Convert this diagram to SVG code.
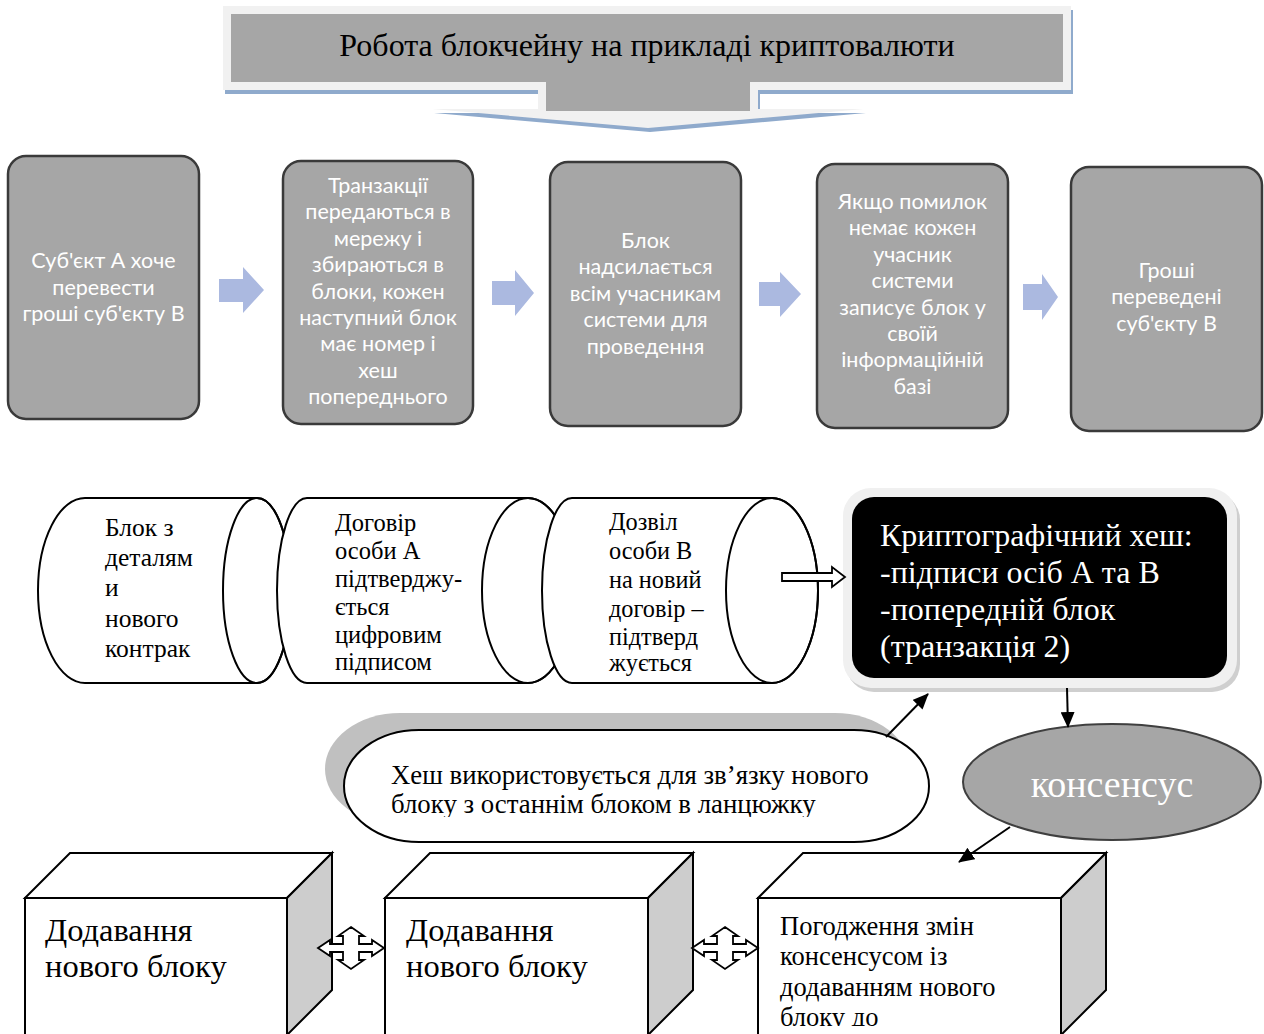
<svg xmlns="http://www.w3.org/2000/svg" width="1264" height="1034" viewBox="0 0 1264 1034">
<style>
.box{fill:#a6a6a6;stroke:#3a3a3a;stroke-width:2.5}
.bt{font-family:Lato,"Open Sans","Noto Sans",sans-serif;font-size:21.5px;fill:#ffffff;text-anchor:middle}
.blue{fill:#abb9e0}
.cyl{fill:#ffffff;stroke:#000;stroke-width:2}
.ser{font-family:"Liberation Serif","Times New Roman",serif;fill:#000}
.cube{fill:#ffffff;stroke:#000;stroke-width:2}
.side{fill:#cdcdcd;stroke:#000;stroke-width:2}
.ln{stroke:#000;stroke-width:2;fill:none}
.qa{fill:#ffffff;stroke:#000;stroke-width:1.8;stroke-linejoin:miter}
</style>
<defs>
<marker id="ah" markerUnits="userSpaceOnUse" markerWidth="16" markerHeight="14" refX="15" refY="7" orient="auto">
<path d="M0,0 L16,7 L0,14 Z" fill="#000"/>
</marker>
<clipPath id="clipPill"><rect x="300" y="700" width="650" height="117"/></clipPath>
<clipPath id="clipCube3"><rect x="740" y="880" width="400" height="146"/></clipPath>
<polygon id="quad" points="0,-21 13,-12 8,-12 8,-4 21,-4 21,-8 33,0 21,8 21,4 8,4 8,12 13,12 0,21 -13,12 -8,12 -8,4 -21,4 -21,8 -33,0 -21,-8 -21,-4 -8,-4 -8,-12 -13,-12"/>
<path id="banner" d="M223,6 H1071 V90 H758 V109 H864 L648,128 L432,109 H538 V90 H223 Z"/>
</defs>

<g id="title">
<use href="#banner" transform="translate(2,4)" fill="#8faacc"/>
<use href="#banner" fill="#f1f1f1"/>
<rect x="231" y="14" width="832" height="68" fill="#a6a6a6"/>
<rect x="546" y="81" width="204" height="30" fill="#a6a6a6"/>
<text x="647" y="56" class="ser" font-size="32" text-anchor="middle">Робота блокчейну на прикладі криптовалюти</text>
</g>

<g id="box1">
<rect class="box" x="8" y="156" width="191" height="263" rx="18"/>
<text class="bt"><tspan x="103.5" y="268">Суб'єкт А хоче</tspan><tspan x="103.5" y="295">перевести</tspan><tspan x="103.5" y="321">гроші суб'єкту В</tspan></text>
</g>
<g id="box2">
<rect class="box" x="283" y="161" width="190" height="263" rx="18"/>
<text class="bt"><tspan x="378" y="193">Транзакції</tspan><tspan x="378" y="219.4">передаються в</tspan><tspan x="378" y="245.8">мережу і</tspan><tspan x="378" y="272.2">збираються в</tspan><tspan x="378" y="298.6">блоки, кожен</tspan><tspan x="378" y="325">наступний блок</tspan><tspan x="378" y="351.4">має номер і</tspan><tspan x="378" y="377.8">хеш</tspan><tspan x="378" y="404.2">попереднього</tspan></text>
</g>
<g id="box3">
<rect class="box" x="550" y="162" width="191" height="264" rx="18"/>
<text class="bt"><tspan x="645.5" y="248">Блок</tspan><tspan x="645.5" y="274.4">надсилається</tspan><tspan x="645.5" y="300.8">всім учасникам</tspan><tspan x="645.5" y="327.2">системи для</tspan><tspan x="645.5" y="353.6">проведення</tspan></text>
</g>
<g id="box4">
<rect class="box" x="817" y="164" width="191" height="264" rx="18"/>
<text class="bt"><tspan x="912.5" y="209">Якщо помилок</tspan><tspan x="912.5" y="235.4">немає кожен</tspan><tspan x="912.5" y="261.8">учасник</tspan><tspan x="912.5" y="288.2">системи</tspan><tspan x="912.5" y="314.6">записує блок у</tspan><tspan x="912.5" y="341">своїй</tspan><tspan x="912.5" y="367.4">інформаційній</tspan><tspan x="912.5" y="393.8">базі</tspan></text>
</g>
<g id="box5">
<rect class="box" x="1071" y="167" width="191" height="264" rx="18"/>
<text class="bt"><tspan x="1166.5" y="278">Гроші</tspan><tspan x="1166.5" y="304.4">переведені</tspan><tspan x="1166.5" y="330.8">суб'єкту В</tspan></text>
</g>

<g id="cyl1">
<path class="cyl" d="M85,498 H257 A34,92.5 0 0 1 257,683 H85 A47,92.5 0 0 1 85,498 Z"/>
<ellipse cx="257" cy="590.5" rx="34" ry="92.5" fill="none" stroke="#000" stroke-width="2"/>
<text class="ser" font-size="25.5"><tspan x="105" y="536">Блок з</tspan><tspan x="105" y="566">деталям</tspan><tspan x="105" y="596">и</tspan><tspan x="105" y="627">нового</tspan><tspan x="105" y="657">контрак</tspan></text>
</g>
<g id="cyl2">
<path class="cyl" d="M307,498 H528 A46,92.5 0 0 1 528,683 H307 A30,92.5 0 0 1 307,498 Z"/>
<ellipse cx="528" cy="590.5" rx="46" ry="92.5" fill="none" stroke="#000" stroke-width="2"/>
<text class="ser" font-size="24.5"><tspan x="335" y="531">Договір</tspan><tspan x="335" y="559">особи А</tspan><tspan x="335" y="587">підтверджу-</tspan><tspan x="335" y="615">ється</tspan><tspan x="335" y="643">цифровим</tspan><tspan x="335" y="670">підписом</tspan></text>
</g>
<g id="cyl3">
<path class="cyl" d="M572,498 H772 A46,92.5 0 0 1 772,683 H572 A30,92.5 0 0 1 572,498 Z"/>
<ellipse cx="772" cy="590.5" rx="46" ry="92.5" fill="none" stroke="#000" stroke-width="2"/>
<text class="ser" font-size="24.3"><tspan x="609" y="530">Дозвіл</tspan><tspan x="609" y="559">особи В</tspan><tspan x="609" y="588">на новий</tspan><tspan x="609" y="617">договір –</tspan><tspan x="609" y="645">підтверд</tspan><tspan x="609" y="671">жується</tspan></text>
</g>

<g id="hashbox">
<rect x="846" y="492" width="394" height="200" rx="28" fill="#cfcfcf"/>
<rect x="843" y="488" width="394" height="200" rx="28" fill="#f0f0f0"/>
<rect x="852" y="497" width="375" height="181" rx="22" fill="#000"/>
<text class="ser" font-size="32" style="fill:#fff"><tspan x="880" y="546">Криптографічний хеш:</tspan><tspan x="880" y="583">-підписи осіб А та В</tspan><tspan x="880" y="620">-попередній блок</tspan><tspan x="880" y="657">(транзакція 2)</tspan></text>
</g>

<g id="pill">
<rect x="325" y="713" width="585" height="112" rx="75" ry="56" fill="#c0c0c0"/>
<rect x="344" y="730" width="585" height="112" rx="75" ry="56" fill="#fff" stroke="#000" stroke-width="2"/>
<text class="ser" font-size="26.8" clip-path="url(#clipPill)"><tspan x="391" y="784">Хеш використовується для зв’язку нового</tspan><tspan x="391" y="813">блоку з останнім блоком в ланцюжку</tspan></text>
</g>

<g id="consensus">
<ellipse cx="1112" cy="782" rx="149" ry="58" fill="#a6a6a6" stroke="#3f3f3f" stroke-width="2"/>
<text x="1112" y="797" class="ser" font-size="38" text-anchor="middle" style="fill:#fff">консенсус</text>
</g>

<g id="cube1">
<polygon class="cube" points="25,898 70,853 332,853 287,898"/>
<polygon class="side" points="287,898 332,853 332,990 287,1035"/>
<rect class="cube" x="25" y="898" width="262" height="140"/>
<text class="ser" font-size="32.5"><tspan x="45" y="941">Додавання</tspan><tspan x="45" y="977">нового блоку</tspan></text>
</g>
<g id="cube2">
<polygon class="cube" points="385,898 430,853 693,853 648,898"/>
<polygon class="side" points="648,898 693,853 693,990 648,1035"/>
<rect class="cube" x="385" y="898" width="263" height="140"/>
<text class="ser" font-size="32.5"><tspan x="406" y="941">Додавання</tspan><tspan x="406" y="977">нового блоку</tspan></text>
</g>
<g id="cube3">
<polygon class="cube" points="758,898 803,853 1106,853 1061,898"/>
<polygon class="side" points="1061,898 1106,853 1106,990 1061,1035"/>
<rect class="cube" x="758" y="898" width="303" height="140"/>
<text class="ser" font-size="26.5" clip-path="url(#clipCube3)"><tspan x="780" y="935">Погодження змін</tspan><tspan x="780" y="965">консенсусом із</tspan><tspan x="780" y="996">додаванням нового</tspan><tspan x="780" y="1026">блоку до</tspan></text>
</g>

<g id="connectors">
<polygon class="blue" points="219,279 243,279 243,267 264,290 243,313 243,302 219,302"/>
<polygon class="blue" points="492,281 515,281 515,270 534,293 515,316 515,305 492,305"/>
<polygon class="blue" points="759,282 780,282 780,272 801,294 780,317 780,306 759,306"/>
<polygon class="blue" points="1023,284 1042,284 1042,274 1058,297 1042,320 1042,310 1023,310"/>
<polygon points="782,573 832,573 832,567 845,577 832,587 832,581 782,581" fill="#fff" stroke="#000" stroke-width="1.8"/>
<line class="ln" x1="886" y1="737" x2="928" y2="694" marker-end="url(#ah)"/>
<line class="ln" x1="1067" y1="688" x2="1068" y2="727" marker-end="url(#ah)"/>
<line class="ln" x1="1010" y1="827" x2="959" y2="862" marker-end="url(#ah)"/>
<use href="#quad" class="qa" transform="translate(351,948)"/>
<use href="#quad" class="qa" transform="translate(725,948)"/>
</g>
</svg>
